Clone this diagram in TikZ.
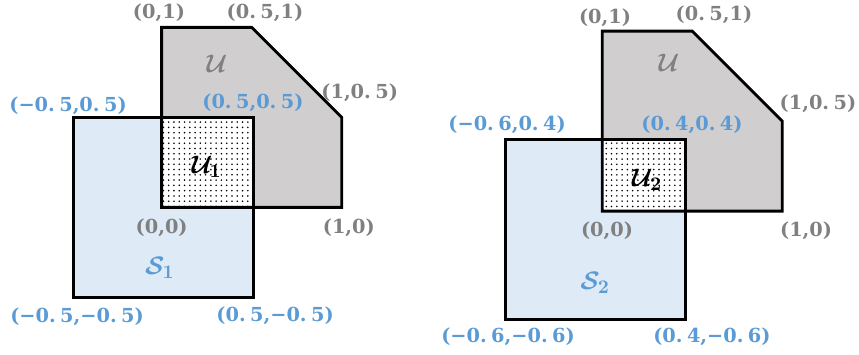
\documentclass[tikz,border=0pt]{standalone}
\usepackage{fontspec}
\newfontfamily\coordfont{DejaVu Serif}
\usetikzlibrary{patterns}
\definecolor{lblblue}{RGB}{91,155,213}
\definecolor{lblgray}{RGB}{128,128,128}
\definecolor{sfillc}{RGB}{222,235,247}
\definecolor{ufillc}{RGB}{208,206,206}
\newcommand{\dsep}{.\kern2.5pt}
\begin{document}
\begin{tikzpicture}[x=3.6cm,y=3.6cm]
		\tikzset{
			edge/.style={draw=black,line width=1.6pt},
			lbl/.style={inner sep=0pt,font=\coordfont\bfseries\fontsize{11}{13}\selectfont},
			glbl/.style={lbl,text=lblgray},
			blbl/.style={lbl,text=lblblue},
			setlbl/.style={inner sep=0pt,font=\fontsize{15}{17}\selectfont\boldmath},
		}
		\useasboundingbox (-0.898,-0.815) rectangle (3.874,1.152);
		\def\U{(0,0)--(0,1)--(0.5,1)--(1,0.5)--(1,0)--cycle}
		% left: S_1 and U
		\begin{scope}
			\def\S{(-0.49,-0.5) rectangle (0.51,0.5)}
			\def\I{(0,0) rectangle (0.51,0.5)}
			\fill[sfillc] \S;
			\fill[ufillc] \U;
			\fill[white] \I;
			\fill[pattern=dots] \I;
			\draw[edge] \S;
			\draw[edge] \U;
			\node[glbl] (a01) at (-0.015,1.08) {(0,1)};
			\node[glbl] (a51) at (0.574,1.08) {(0\dsep5,1)};
			\node[glbl] (a15) at (1.10,0.635) {(1,0\dsep5)};
			\node[glbl] (a00) at (0,-0.115) {(0,0)};
			\node[glbl] (a10) at (1.04,-0.115) {(1,0)};
			\node[blbl] (ann) at (-0.52,0.565) {(−0\dsep5,0\dsep5)};
			\node[blbl] (app) at (0.507,0.58) {(0\dsep5,0\dsep5)};
			\node[blbl] (amm) at (-0.47,-0.61) {(−0\dsep5,−0\dsep5)};
			\node[blbl] (apm) at (0.63,-0.60) {(0\dsep5,−0\dsep5)};
			\node[setlbl,text=lblgray] (au) at (0.307,0.80) {$\mathcal{U}$};
			\node[setlbl] (au1) at (0.25,0.225) {$\mathcal{U}_1$};
			\node[setlbl,text=lblblue] (as1) at (-0.01,-0.337) {$\mathcal{S}_1$};
		\end{scope}
		% right: S_2 and U
		\begin{scope}[shift={(2.448,-0.021)}]
			\def\S{(-0.54,-0.6) rectangle (0.46,0.4)}
			\def\I{(0,0) rectangle (0.46,0.4)}
			\fill[sfillc] \S;
			\fill[ufillc] \U;
			\fill[white] \I;
			\fill[pattern=dots] \I;
			\draw[edge] \S;
			\draw[edge] \U;
			\node[glbl] (b01) at (0.015,1.072) {(0,1)};
			\node[glbl] (b51) at (0.62,1.089) {(0\dsep5,1)};
			\node[glbl] (b15) at (1.198,0.594) {(1,0\dsep5)};
			\node[glbl] (b00) at (0.026,-0.111) {(0,0)};
			\node[glbl] (b10) at (1.132,-0.111) {(1,0)};
			\node[blbl] (bnn) at (-0.529,0.478) {(−0\dsep6,0\dsep4)};
			\node[blbl] (bpp) at (0.498,0.478) {(0\dsep4,0\dsep4)};
			\node[blbl] (bmm) at (-0.524,-0.70) {(−0\dsep6,−0\dsep6)};
			\node[blbl] (bpm) at (0.609,-0.70) {(0\dsep4,−0\dsep6)};
			\node[setlbl,text=lblgray] (bu) at (0.37,0.822) {$\mathcal{U}$};
			\node[setlbl] (bu2) at (0.248,0.172) {$\mathcal{U}_2$};
			\node[setlbl,text=lblblue] (bs2) at (-0.04,-0.40) {$\mathcal{S}_2$};
		\end{scope}
\end{tikzpicture}
\end{document}
